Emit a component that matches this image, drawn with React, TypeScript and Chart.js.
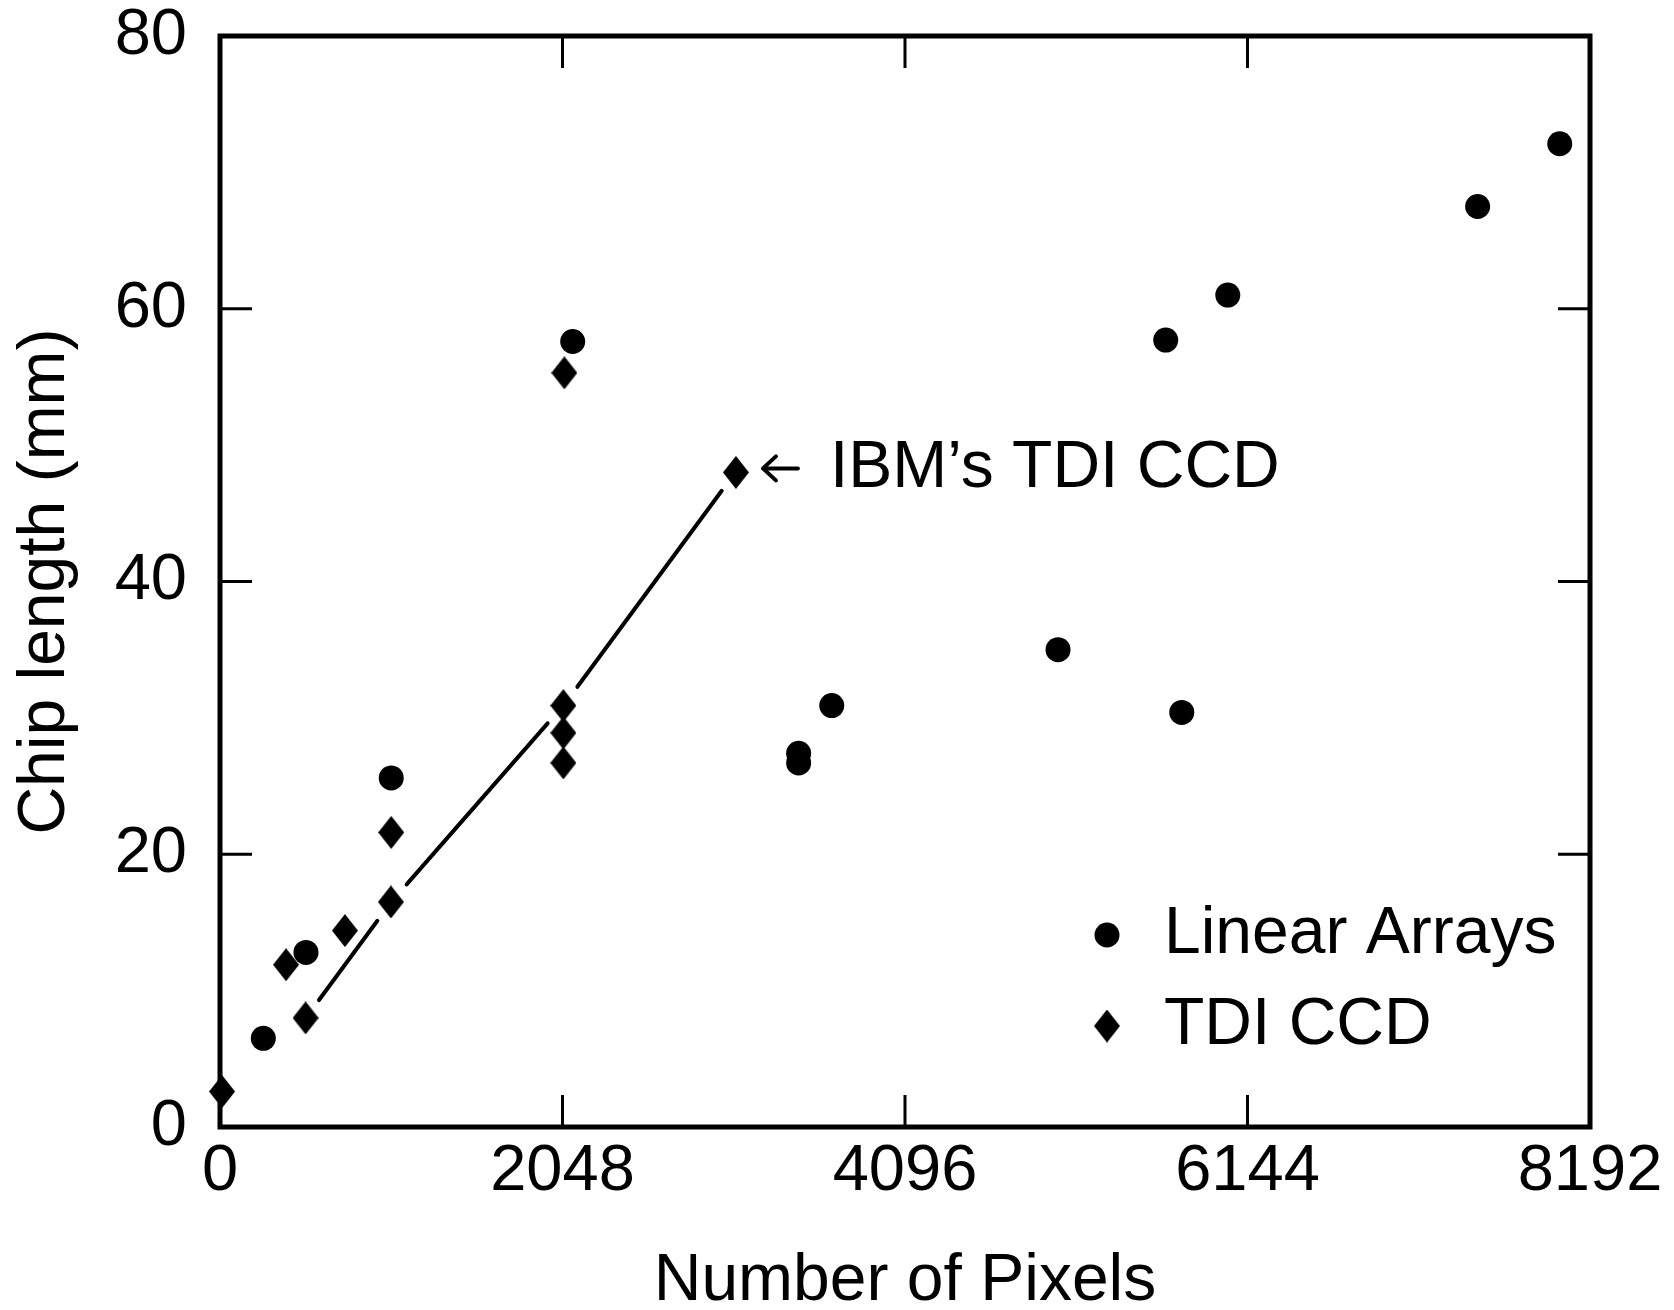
import React, { useEffect, useRef } from 'react';
import { Chart, registerables } from 'chart.js';

Chart.register(...registerables);

// ---- data ----
const linearX = [259, 514, 1024, 2109, 3460, 3460, 3658, 5011, 5655, 5751, 6026, 7520, 8011];
const linearY = [6.5, 12.8, 25.6, 57.6, 27.4, 26.7, 30.9, 35.0, 57.7, 30.4, 61.0, 67.5, 72.1];

const tdiX = [12, 395, 512, 747, 1022, 1024, 2053, 2053, 2053, 2059, 3085];
const tdiY = [2.6, 11.9, 8.0, 14.4, 16.5, 21.6, 30.9, 28.9, 26.7, 55.3, 48.0];

// hand-drawn trend line, broken into segments (null = gap)
const fitX = [592, 941, 1030, 1116, 1959, 2050, 2137, 3000];
const fitY: (number | null)[] = [9.31, 15.12, null, 17.79, 29.6, null, 32.28, 46.65];

const xTicks = [0, 2048, 4096, 6144, 8192];
const yTicks = [0, 20, 40, 60, 80];

const seriesNames = ['Linear Arrays', 'TDI CCD'];
const annotationText = 'IBM\u2019s TDI CCD';
const annotationIndex = 10; // index in tdi arrays
const xTitle = 'Number of Pixels';
const yTitle = 'Chip length (mm)';

const FONT = '"Liberation Sans", Arial, Helvetica, sans-serif';

function makeDiamond(): HTMLCanvasElement {
  const c = document.createElement('canvas');
  c.width = 26;
  c.height = 33;
  const g = c.getContext('2d')!;
  g.fillStyle = '#000';
  g.beginPath();
  g.moveTo(13, 0);
  g.lineTo(26, 16.5);
  g.lineTo(13, 33);
  g.lineTo(0, 16.5);
  g.closePath();
  g.fill();
  return c;
}

export default function App() {
  const ref = useRef<HTMLCanvasElement | null>(null);

  useEffect(() => {
    document.body.style.margin = '0';
    document.body.style.background = '#fff';
    const canvas = ref.current;
    if (!canvas) return;
    const diamond = makeDiamond();

    const framePlugin = {
      id: 'frameTicks',
      beforeDatasetsDraw(chart: any) {
        const { ctx, chartArea: a, scales } = chart;
        ctx.save();
        ctx.strokeStyle = '#000';
        ctx.lineWidth = 3;
        const tl = 32;
        for (const v of xTicks) {
          const px = scales.x.getPixelForValue(v);
          ctx.beginPath();
          ctx.moveTo(px, a.bottom);
          ctx.lineTo(px, a.bottom - tl);
          ctx.moveTo(px, a.top);
          ctx.lineTo(px, a.top + tl);
          ctx.stroke();
        }
        for (const v of yTicks) {
          const py = scales.y.getPixelForValue(v);
          ctx.beginPath();
          ctx.moveTo(a.left, py);
          ctx.lineTo(a.left + tl, py);
          ctx.moveTo(a.right, py);
          ctx.lineTo(a.right - tl, py);
          ctx.stroke();
        }
        ctx.lineWidth = 5;
        ctx.strokeRect(a.left, a.top, a.right - a.left, a.bottom - a.top);
        ctx.restore();
      },
      afterDraw(chart: any) {
        const { ctx, chartArea: a, scales } = chart;
        ctx.save();
        ctx.fillStyle = '#000';
        ctx.strokeStyle = '#000';
        ctx.font = `66px ${FONT}`;
        ctx.textBaseline = 'middle';
        ctx.textAlign = 'left';
        // legend
        const lx = a.right - 483;
        const ly1 = a.bottom - 192;
        const ly2 = a.bottom - 101;
        ctx.beginPath();
        ctx.arc(lx, ly1, 12.5, 0, Math.PI * 2);
        ctx.fill();
        ctx.drawImage(diamond, lx - 13, ly2 - 16.5);
        ctx.fillText(seriesNames[0], lx + 57, ly1);
        ctx.fillText(seriesNames[1], lx + 57, ly2);
        // annotation
        const ax = scales.x.getPixelForValue(tdiX[annotationIndex]);
        const ay = scales.y.getPixelForValue(tdiY[annotationIndex]);
        const arY = ay - 4;
        ctx.lineWidth = 4;
        ctx.lineCap = 'round';
        ctx.lineJoin = 'round';
        ctx.beginPath();
        ctx.moveTo(ax + 27, arY);
        ctx.lineTo(ax + 62, arY);
        ctx.moveTo(ax + 40, arY - 12);
        ctx.lineTo(ax + 27, arY);
        ctx.lineTo(ax + 40, arY + 12);
        ctx.stroke();
        ctx.fillText(annotationText, ax + 94, arY);
        ctx.restore();
      },
    };

    const chart = new Chart(canvas, {
      type: 'scatter',
      data: {
        datasets: [
          {
            label: 'fit',
            data: fitX.map((x, i) => ({ x, y: fitY[i] as any })),
            showLine: true,
            spanGaps: false,
            borderColor: '#000',
            borderWidth: 4,
            borderCapStyle: 'round',
            pointRadius: 0,
            pointHoverRadius: 0,
            order: 3,
          } as any,
          {
            label: seriesNames[0],
            data: linearX.map((x, i) => ({ x, y: linearY[i] })),
            pointStyle: 'circle',
            pointRadius: 12.5,
            backgroundColor: '#000',
            borderWidth: 0,
            clip: false,
            order: 1,
          } as any,
          {
            label: seriesNames[1],
            data: tdiX.map((x, i) => ({ x, y: tdiY[i] })),
            pointStyle: diamond,
            pointRadius: 14,
            backgroundColor: '#000',
            borderWidth: 0,
            clip: false,
            order: 2,
          } as any,
        ],
      },
      options: {
        responsive: false,
        animation: false,
        devicePixelRatio: 1,
        layout: { padding: { top: 36, right: 84, left: 0, bottom: 0 } },
        plugins: {
          legend: { display: false },
          tooltip: { enabled: false },
        },
        scales: {
          x: {
            type: 'linear',
            min: 0,
            max: 8192,
            afterBuildTicks: (s: any) => {
              s.ticks = xTicks.map((v) => ({ value: v }));
            },
            afterFit: (s: any) => {
              s.height = 183;
              s.paddingLeft = 0;
              s.paddingRight = 0;
              s.paddingTop = 0;
              s.paddingBottom = 0;
            },
            grid: { display: false, drawTicks: false },
            border: { display: false },
            ticks: {
              color: '#000',
              padding: 13,
              maxRotation: 0,
              font: { family: FONT, size: 65, lineHeight: 1 },
              callback: (v: any) => String(v),
            },
            title: {
              display: true,
              text: xTitle,
              color: '#000',
              padding: { top: 0, bottom: 0 },
              font: { family: FONT, size: 66, lineHeight: 0.85 },
            },
          },
          y: {
            type: 'linear',
            min: 0,
            max: 80,
            afterBuildTicks: (s: any) => {
              s.ticks = yTicks.map((v) => ({ value: v }));
            },
            afterFit: (s: any) => {
              s.width = 220;
              s.paddingLeft = 0;
              s.paddingRight = 0;
              s.paddingTop = 0;
              s.paddingBottom = 0;
            },
            grid: { display: false, drawTicks: false },
            border: { display: false },
            ticks: {
              color: '#000',
              padding: 33,
              font: { family: FONT, size: 65, lineHeight: 1 },
              callback: (v: any) => String(v),
            },
            title: {
              display: true,
              text: yTitle,
              color: '#000',
              padding: { top: 13, bottom: 0 },
              font: { family: FONT, size: 66, lineHeight: 1 },
            },
          },
        },
      } as any,
      plugins: [framePlugin],
    });
    return () => chart.destroy();
  }, []);

  return (
    <div style={{ width: 1674, height: 1310, background: '#fff' }}>
      <canvas ref={ref} width={1674} height={1310} style={{ display: 'block' }} />
    </div>
  );
}
